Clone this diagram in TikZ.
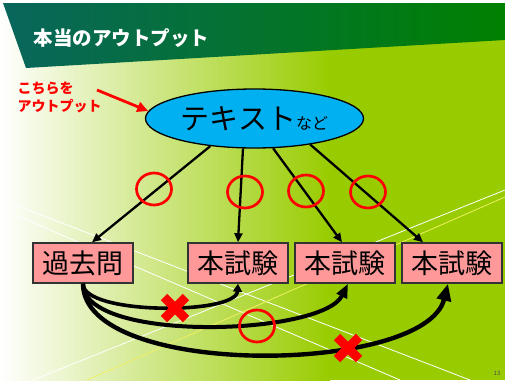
\documentclass[tikz,border=0pt]{standalone}
\usepackage{fontspec}
\setmainfont{Noto Sans CJK JP}
\usetikzlibrary{arrows.meta,calc,shapes.geometric}
\definecolor{headL}{RGB}{8,102,92}
\definecolor{headR}{RGB}{0,128,0}
\definecolor{bgG}{RGB}{153,204,0}
\definecolor{boxP}{RGB}{255,153,153}
\definecolor{elB}{RGB}{0,176,240}
\definecolor{lineY}{RGB}{240,240,100}

\begin{document}
\begin{tikzpicture}[x=1pt,y=-1pt,
  box/.style={draw=black!80,line width=1.5pt,fill=boxP,minimum width=100pt,minimum height=40pt,inner sep=0pt,font=\fontsize{27}{27}\selectfont},
  arr/.style={line width=2.3pt,-{Triangle[length=9pt,width=8pt]}},
  curv/.style={line width=4pt},
  maru/.style={draw=red,line width=2.7pt},
  batsu/.style={draw=red,line width=9pt}]
\useasboundingbox (0,0) rectangle (505,380);
\fill[white] (0,0) rectangle (505,380);
\shade[left color=white,right color=bgG] (0,3) rectangle (330,380);
\fill[bgG] (329,3) rectangle (505,380);
\shade[left color=headL,right color=headR] (3,3) -- (505,3) -- (505,40) -- (26,68) -- cycle;

\draw[white,line width=0.8pt] (15,205) -- (470,380);
\draw[white,line width=0.8pt] (15,215) -- (400,380);
\draw[white,line width=0.8pt] (33,380) -- (505,190);
\draw[lineY,line width=0.8pt] (87,380) -- (505,197);

\node[anchor=west,text=white,font=\fontsize{19.5}{19.5}\selectfont\bfseries] (title) at (30,38) {本当のアウトプット};
\node[anchor=west,text=red,align=left,font=\fontsize{14}{18}\selectfont\bfseries] (note) at (14,97) {こちらを\\アウトプット};
\node[ellipse,draw,line width=1.3pt,fill=elB,minimum width=218pt,minimum height=59pt,inner sep=0pt] (txt) at (254.5,118.5) {\raisebox{-2.5pt}{\fontsize{29}{29}\selectfont テキスト\fontsize{16}{16}\selectfont など}};

\coordinate (notetip) at (97,90);
\draw[red,line width=2.8pt,-{Triangle[length=11pt,width=10pt]}] (notetip) -- (txt.176);

\node[box] (kako) at (83,263) {過去問};
\node[box] (hon1) at (238,263) {本試験};
\node[box] (hon2) at (345,263) {本試験};
\node[box] (hon3) at (452,263) {本試験};

\draw[arr] (txt.212) -- ($(kako.north)+(9,0)$);
\draw[arr] (txt.249) -- (hon1.north);
\draw[arr] (txt.302) -- ($(hon2.north)+(-3,0)$);
\draw[arr] (txt.335) -- ($(hon3.north)+(-29,0)$);

\draw[curv,line width=3.6pt,-{Triangle[length=8pt,width=9pt]}] (kako.south) .. controls (83,315) and (236,315) .. (hon1.south);
\draw[curv,-{Triangle[length=14pt,width=11pt]}] (kako.south) .. controls (83,343) and (322,336) .. ($(hon2.south)+(3,0)$);
\draw[curv,line width=4.4pt,-{Triangle[length=17pt,width=14pt]}] (kako.south) .. controls (83,379) and (425,375) .. ($(hon3.south)+(-4,0)$);

\foreach \x/\y in {154/189, 245/192, 306/191, 368/192, 257/326}
  \draw[maru] (\x,\y) ellipse [x radius=17.5, y radius=16];
\foreach \x/\y in {175/308, 348/348} {
  \draw[batsu] (\x-11,\y-11) -- (\x+11,\y+11);
  \draw[batsu] (\x-11,\y+11) -- (\x+11,\y-11);
}

\node[font=\fontsize{6}{6}\selectfont,text=black!70] (pnum) at (497,373) {13};
\end{tikzpicture}
\end{document}
